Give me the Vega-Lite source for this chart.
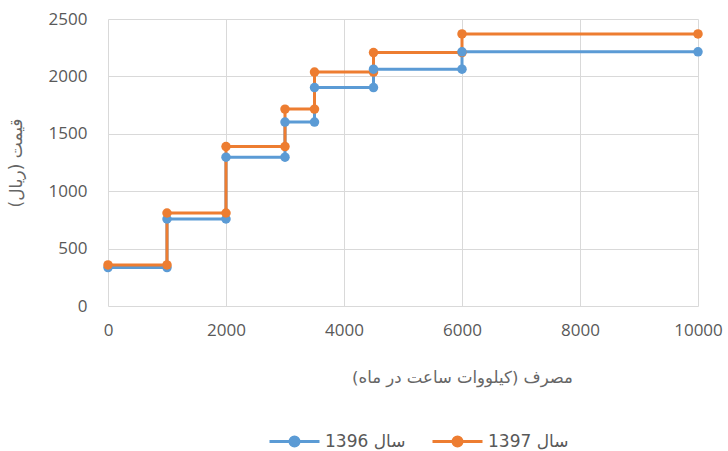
{
  "$schema": "https://vega.github.io/schema/vega-lite/v6.json",
  "width": 590,
  "height": 287,
  "autosize": "none",
  "padding": {"left": 108, "top": 19, "right": 30, "bottom": 145},
  "background": "white",
  "config": {
    "view": {"stroke": null},
    "font": "Open Sans, DejaVu Sans",
    "axis": {
      "labelColor": "#595959",
      "titleColor": "#666666",
      "labelFont": "Open Sans, DejaVu Sans",
      "titleFont": "DejaVu Sans",
      "titleFontWeight": "normal",
      "gridColor": "#D9D9D9",
      "gridWidth": 1,
      "ticks": false,
      "domain": false
    }
  },
  "data": {
    "values": [
      {"series": "سال 1396", "i": 1, "x": 0, "y": 335},
      {"series": "سال 1396", "i": 2, "x": 1000, "y": 335},
      {"series": "سال 1396", "i": 3, "x": 1000, "y": 758},
      {"series": "سال 1396", "i": 4, "x": 2000, "y": 758},
      {"series": "سال 1396", "i": 5, "x": 2000, "y": 1296},
      {"series": "سال 1396", "i": 6, "x": 3000, "y": 1296},
      {"series": "سال 1396", "i": 7, "x": 3000, "y": 1602},
      {"series": "سال 1396", "i": 8, "x": 3500, "y": 1602},
      {"series": "سال 1396", "i": 9, "x": 3500, "y": 1903},
      {"series": "سال 1396", "i": 10, "x": 4500, "y": 1903},
      {"series": "سال 1396", "i": 11, "x": 4500, "y": 2063},
      {"series": "سال 1396", "i": 12, "x": 6000, "y": 2063},
      {"series": "سال 1396", "i": 13, "x": 6000, "y": 2214},
      {"series": "سال 1396", "i": 14, "x": 10000, "y": 2214},
      {"series": "سال 1397", "i": 1, "x": 0, "y": 358},
      {"series": "سال 1397", "i": 2, "x": 1000, "y": 358},
      {"series": "سال 1397", "i": 3, "x": 1000, "y": 810},
      {"series": "سال 1397", "i": 4, "x": 2000, "y": 810},
      {"series": "سال 1397", "i": 5, "x": 2000, "y": 1389},
      {"series": "سال 1397", "i": 6, "x": 3000, "y": 1389},
      {"series": "سال 1397", "i": 7, "x": 3000, "y": 1715},
      {"series": "سال 1397", "i": 8, "x": 3500, "y": 1715},
      {"series": "سال 1397", "i": 9, "x": 3500, "y": 2038},
      {"series": "سال 1397", "i": 10, "x": 4500, "y": 2038},
      {"series": "سال 1397", "i": 11, "x": 4500, "y": 2208},
      {"series": "سال 1397", "i": 12, "x": 6000, "y": 2208},
      {"series": "سال 1397", "i": 13, "x": 6000, "y": 2370},
      {"series": "سال 1397", "i": 14, "x": 10000, "y": 2370}
    ]
  },
  "encoding": {
    "x": {
      "field": "x",
      "type": "quantitative",
      "scale": {"domain": [0, 10000], "nice": false, "zero": true},
      "axis": {
        "values": [0, 2000, 4000, 6000, 8000, 10000],
        "format": "d",
        "labelFontSize": 17,
        "labelPadding": 16,
        "labelFlush": false,
        "title": "\u200f\u0645\u0635\u0631\u0641 (\u06a9\u06cc\u0644\u0648\u0648\u0627\u062a \u0633\u0627\u0639\u062a \u062f\u0631 \u0645\u0627\u0647)\u200f",
        "titleFontSize": 16.5,
        "titleX": 354,
        "titleY": 71,
        "titleAlign": "center",
        "titleBaseline": "middle"
      }
    },
    "y": {
      "field": "y",
      "type": "quantitative",
      "scale": {"domain": [0, 2500], "nice": false},
      "axis": {
        "values": [0, 500, 1000, 1500, 2000, 2500],
        "format": "d",
        "labelFontSize": 17,
        "labelPadding": 21,
        "title": "\u0642\u06cc\u0645\u062a (\u0631\u06cc\u0627\u0644)\u200f",
        "titleFontSize": 17,
        "titlePadding": 23
      }
    },
    "color": {
      "field": "series",
      "type": "nominal",
      "scale": {"domain": ["سال 1396", "سال 1397"], "range": ["#5B9BD5", "#ED7D31"]},
      "legend": {
        "title": null,
        "orient": "none",
        "direction": "horizontal",
        "legendX": 160,
        "legendY": 396,
        "labelFontSize": 17,
        "labelColor": "#595959",
        "labelFont": "DejaVu Sans",
        "labelExpr": "'\u200e' + split(datum.label, ' ')[1] + ' \u200e' + split(datum.label, ' ')[0]",
        "symbolSize": 2500,
        "symbolStrokeWidth": 3,
        "columnPadding": 20,
        "labelOffset": 4,
        "encode": {
          "symbols": {
            "update": {
              "shape": {"value": "M-1,0L1,0M-0.18,0A0.18,0.18,0,1,0,0.18,0A0.18,0.18,0,1,0,-0.18,0Z"},
              "fill": {"scale": "color", "field": "value"},
              "stroke": {"scale": "color", "field": "value"},
              "strokeWidth": {"value": 3}
            }
          }
        }
      }
    },
    "order": {"field": "i", "type": "quantitative"}
  },
  "layer": [
    {"mark": {"type": "line", "strokeWidth": 3}},
    {"mark": {"type": "point", "filled": true, "opacity": 1, "size": 90}}
  ]
}
